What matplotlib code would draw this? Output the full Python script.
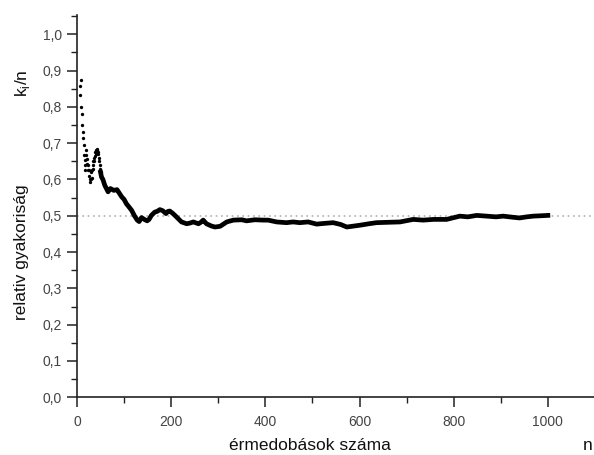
import matplotlib
matplotlib.use("Agg")
import matplotlib.pyplot as plt
from matplotlib.ticker import MultipleLocator, FuncFormatter

plt.rcParams['font.family'] = ['Liberation Sans', 'DejaVu Sans']

# early part, drawn as dots (n, relative frequency)
early_n = [6, 7, 8, 9, 10, 11, 12, 13, 14, 15, 16, 17, 18, 19, 20, 21, 22, 23, 24,
           25, 26, 27, 28, 29, 30, 31, 32, 33, 34, 35, 36, 37, 38, 39, 40, 41, 42,
           43, 44, 45, 46, 47, 48, 49, 50]
early_v = [0.833, 0.857, 0.875, 0.800, 0.780, 0.750, 0.730, 0.714, 0.694, 0.667,
           0.653, 0.640, 0.625, 0.680, 0.667, 0.655, 0.642, 0.625, 0.640, 0.625,
           0.610, 0.600, 0.593, 0.600, 0.620, 0.605, 0.625, 0.640, 0.630, 0.650,
           0.660, 0.650, 0.665, 0.675, 0.670, 0.680, 0.685, 0.682, 0.675, 0.670,
           0.660, 0.650, 0.640, 0.630, 0.620]

# later part, drawn as a thick line
late_n = [50, 52, 55, 59, 66, 71, 78, 85, 88, 95, 100, 105, 110, 116, 122, 128, 132,
          137, 143, 149, 153, 158, 165, 170, 176, 182, 189, 193, 197, 203, 208, 215,
          222, 233, 240, 247, 258, 263, 268, 275, 285, 293, 304, 318, 332, 350, 360,
          378, 396, 406, 424, 445, 459, 473, 491, 509, 525, 544, 560, 573, 601, 620,
          636, 660, 686, 714, 735, 757, 785, 813, 830, 849, 870, 890, 905, 925, 940,
          955, 969, 985, 1000]
late_v = [0.620, 0.607, 0.600, 0.584, 0.566, 0.575, 0.570, 0.572, 0.566, 0.552,
          0.545, 0.533, 0.525, 0.515, 0.500, 0.488, 0.484, 0.495, 0.490, 0.486,
          0.490, 0.501, 0.510, 0.512, 0.517, 0.514, 0.506, 0.512, 0.513, 0.507,
          0.501, 0.492, 0.483, 0.478, 0.480, 0.483, 0.478, 0.482, 0.488, 0.478,
          0.472, 0.469, 0.471, 0.483, 0.488, 0.489, 0.486, 0.489, 0.488, 0.488,
          0.483, 0.481, 0.483, 0.481, 0.483, 0.477, 0.479, 0.481, 0.476, 0.469,
          0.474, 0.478, 0.481, 0.482, 0.483, 0.490, 0.488, 0.490, 0.490, 0.499,
          0.497, 0.501, 0.499, 0.497, 0.499, 0.496, 0.494, 0.497, 0.499, 0.500,
          0.501]

x_ticks = [0, 200, 400, 600, 800, 1000]
y_ticks = [0.0, 0.1, 0.2, 0.3, 0.4, 0.5, 0.6, 0.7, 0.8, 0.9, 1.0]
reference_level = 0.5

fig = plt.figure(figsize=(5.94, 4.55), dpi=100)
ax = fig.add_axes([77/594, 57.7/455, 1 - 77/594, 382.3/455])
ax.set_xlim(0, 1098)
ax.set_ylim(0, 1.053)

ax.axhline(reference_level, color='#b0b0b0', lw=1.2, ls=(0, (1, 2.2)), zorder=1)
ax.plot(late_n, late_v, color='black', lw=3.4, solid_joinstyle='round', zorder=3)
ax.plot(early_n, early_v, ls='none', marker='o', ms=2.4, mew=0, color='black', zorder=3)

for s in ['top', 'right']:
    ax.spines[s].set_visible(False)
for s in ['left', 'bottom']:
    ax.spines[s].set_linewidth(1.2)
    ax.spines[s].set_color('#222222')

ax.set_xticks(x_ticks)
ax.set_yticks(y_ticks)
ax.xaxis.set_minor_locator(MultipleLocator(100))
ax.yaxis.set_minor_locator(MultipleLocator(0.05))
ax.yaxis.set_major_formatter(FuncFormatter(lambda v, p: f"{v:.1f}".replace('.', ',')))
ax.tick_params(which='major', length=7, width=1.1, color='#222222',
               labelsize=10, labelcolor='#444444')
ax.tick_params(which='minor', length=4, width=1.0, color='#222222')
ax.tick_params(axis='x', pad=6)
ax.tick_params(axis='y', pad=4)

fig.text(310/594, 1 - 446/455, 'érmedobások száma', ha='center', va='center',
         fontsize=12.5, color='#111111')
fig.text(583/594, 1 - 446/455, 'n', ha='left', va='center',
         fontsize=12.5, color='#111111')
fig.text(22/594, 1 - 252/455, 'relativ gyakoriság', ha='center', va='center',
         rotation=90, fontsize=12.5, color='#111111')
fig.text(22/594, 1 - 83/455, r'k$_\mathregular{i}$/n', ha='center', va='center',
         rotation=90, fontsize=12.5, color='#111111')

fig.savefig('out.png', dpi=100)
